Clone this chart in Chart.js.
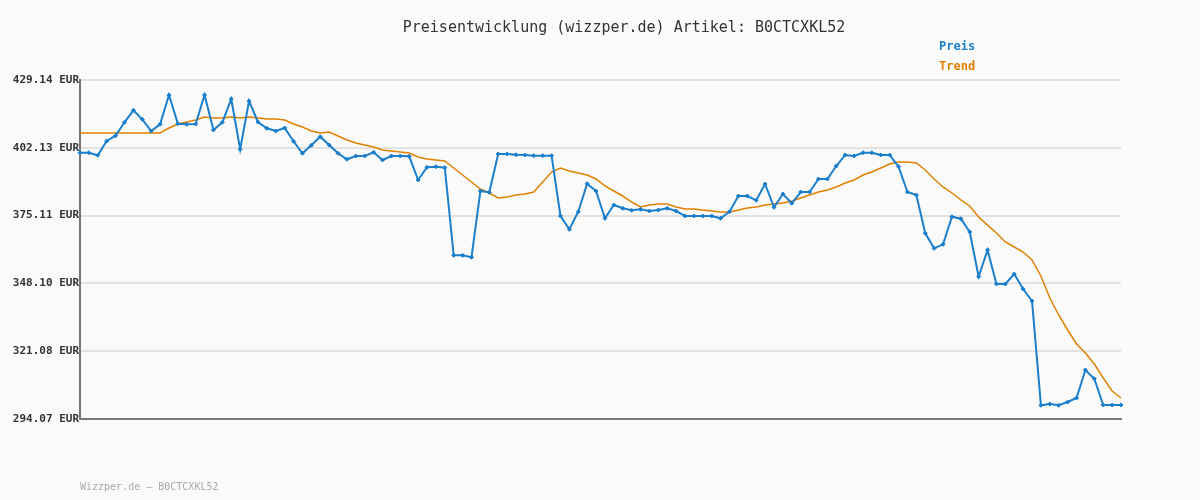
<!DOCTYPE html>
<html><head><meta charset="utf-8">
<script src="https://cdn.jsdelivr.net/npm/chart.js@4"></script>
<style>html,body{margin:0;padding:0;background:#fafafa;}#w{width:1200px;height:500px;}</style>
</head><body><div id="w"><canvas id="c"></canvas></div>
<script>
const titleText = "Preisentwicklung (wizzper.de) Artikel: B0CTCXKL52";
const footerText = "Wizzper.de – B0CTCXKL52";
const tickValues = [294.07, 321.08, 348.10, 375.11, 402.13, 429.14];
const preis = [400.17,400.17,399.14,404.84,406.95,412.29,417.07,413.48,408.82,411.49,
423.16,411.73,411.49,411.61,423.16,409.22,412.29,421.57,401.53,420.77,
412.41,409.90,408.82,410.01,404.72,399.93,403.12,406.55,403.24,399.93,
397.54,398.86,398.86,400.33,397.26,398.86,398.86,398.74,389.30,394.36,
394.60,394.20,359.29,359.29,358.50,384.91,384.40,399.66,399.66,399.38,
399.26,398.98,398.98,398.98,374.95,369.65,376.67,387.82,384.91,374.04,
379.33,378.02,377.22,377.62,376.94,377.34,378.02,376.94,374.95,374.95,
374.95,374.95,374.04,376.67,382.92,382.92,381.21,387.70,378.42,383.72,
380.01,384.51,384.51,389.69,389.69,394.87,399.26,398.86,400.17,400.17,
399.26,399.26,394.60,384.51,383.32,368.06,362.08,363.68,374.67,373.88,
368.58,350.77,361.41,347.86,347.86,351.84,345.87,341.08,299.53,300.05,
299.53,300.84,302.44,313.59,310.13,299.65,299.65,299.65];
const trend = [408.02,408.02,408.02,408.02,408.02,408.02,408.02,408.02,408.02,408.02,
410.01,411.61,412.41,413.20,414.40,414.00,414.00,414.40,414.00,414.40,
414.00,413.60,413.60,413.20,411.61,410.41,408.82,408.02,408.42,406.83,
405.23,404.04,403.24,402.44,401.25,400.85,400.45,400.05,398.46,397.66,
397.27,396.87,394.08,391.29,388.50,385.71,384.12,382.12,382.52,383.32,
383.72,384.51,388.50,392.48,394.08,392.88,392.09,391.29,389.69,386.93,
384.91,382.92,380.53,378.54,379.33,379.73,379.73,378.54,377.74,377.74,
377.34,376.94,376.55,376.55,377.34,378.14,378.54,379.33,379.73,380.13,
380.93,382.12,383.32,384.51,385.31,386.51,388.10,389.30,391.29,392.48,
394.08,395.67,396.47,396.47,396.07,393.28,389.69,386.51,384.12,381.33,
378.94,374.55,371.33,368.18,364.59,362.60,360.61,357.42,351.05,342.28,
335.51,329.53,323.95,320.37,315.98,310.41,305.23,302.44];
const labels = preis.map((_, i) => String(i + 1));
const blue = '#1b7fcb', orange = '#e08000';

const deco = {
  id: 'deco',
  afterDraw(chart) {
    const ctx = chart.ctx;
    ctx.save();
    ctx.font = '15px "DejaVu Sans Mono", monospace';
    ctx.fillStyle = '#333';
    ctx.textAlign = 'center'; ctx.textBaseline = 'middle';
    ctx.fillText(titleText, 624, 28);
    ctx.font = 'bold 12px "DejaVu Sans Mono", monospace';
    ctx.textAlign = 'left';
    ctx.fillStyle = blue; ctx.fillText('Preis', 939, 47);
    ctx.fillStyle = orange; ctx.fillText('Trend', 939, 67);
    ctx.font = '10px "DejaVu Sans Mono", monospace';
    ctx.fillStyle = '#aaa';
    ctx.fillText(footerText, 80, 487);
    ctx.restore();
  }
};

new Chart(document.getElementById('c'), {
  type: 'line',
  data: { labels, datasets: [
    { label: 'Preis', data: preis, borderColor: blue, backgroundColor: blue, borderWidth: 2,
      pointRadius: 2, pointStyle: 'rectRot', pointBorderWidth: 1, tension: 0, order: 1 },
    { label: 'Trend', data: trend, borderColor: orange, borderWidth: 1.5, pointRadius: 0, tension: 0, order: 2 }
  ]},
  options: {
    responsive: true, maintainAspectRatio: false, animation: false,
    layout: { padding: { top: 80, bottom: 81, right: 79, left: 0 } },
    plugins: { legend: { display: false }, tooltip: { enabled: false } },
    scales: {
      x: { offset: false, ticks: { display: false }, grid: { display: false, drawTicks: false },
           border: { color: '#777', width: 2 } },
      y: { min: 294.07, max: 429.14,
           afterBuildTicks(s) { s.ticks = tickValues.map(v => ({ value: v })); },
           afterFit(s) { s.width = 80; },
           ticks: { callback: v => v.toFixed(2) + ' EUR', color: '#333', padding: 0,
                    font: { family: '"DejaVu Sans Mono", monospace', size: 11, weight: 'bold' } },
           grid: { color: '#e2e2e2', lineWidth: 2, drawTicks: true, tickLength: 1, tickColor: '#777' },
           border: { color: '#777', width: 2 } }
    }
  },
  plugins: [deco]
});
</script></body></html>
